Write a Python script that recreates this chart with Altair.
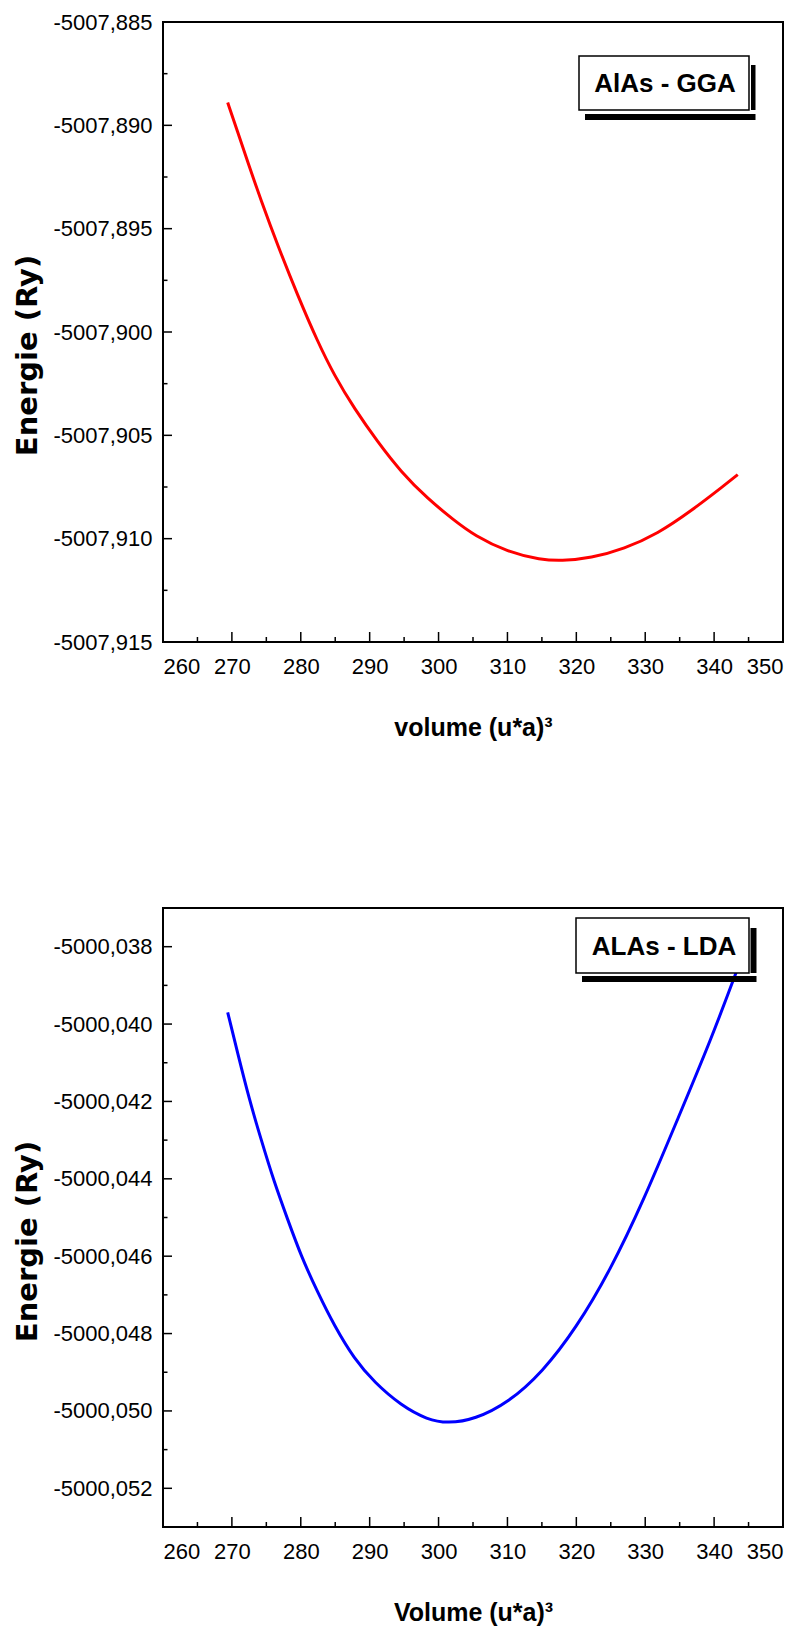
import altair as alt
import pandas as pd

# ---- data ----
V_GGA = [269.39, 270.84, 272.29, 274.23, 276.65, 279.55, 282.46, 284.87, 287.77, 291.17,
         294.55, 298.42, 302.29, 305.19, 310.04, 314.87, 317.77, 322.13, 326.96, 331.81,
         336.65, 341.48, 343.43]
E_GGA = [-5007.88890, -5007.89032, -5007.89177, -5007.89363, -5007.89581, -5007.89823,
         -5007.90048, -5007.90210, -5007.90371, -5007.90532, -5007.90677, -5007.90807,
         -5007.90912, -5007.90984, -5007.91065, -5007.91102, -5007.91108, -5007.91094,
         -5007.91049, -5007.90976, -5007.90866, -5007.90742, -5007.90690]

V_LDA = [269.39, 270.84, 272.53, 274.23, 276.16, 278.10, 280.03, 282.46, 284.87, 287.77,
         290.67, 294.55, 298.42, 301.34, 305.26, 310.17, 315.07, 319.98, 324.89, 329.79,
         334.70, 339.62, 343.40]
E_LDA = [-5000.03970, -5000.04075, -5000.04195, -5000.04298, -5000.04410, -5000.04505,
         -5000.04599, -5000.04694, -5000.04780, -5000.04866, -5000.04926, -5000.04986,
         -5000.05023, -5000.05032, -5000.05022, -5000.04978, -5000.04900, -5000.04786,
         -5000.04638, -5000.04455, -5000.04246, -5000.04037, -5000.03857]

X_DOMAIN = [260, 350]
X_MAJOR = [260, 270, 280, 290, 300, 310, 320, 330, 340, 350]
X_MINOR = [265, 275, 285, 295, 305, 315, 325, 335, 345]

Y_DOMAIN_GGA = [-5007.915, -5007.885]
Y_MAJOR_GGA = [-5007.915, -5007.910, -5007.905, -5007.900, -5007.895, -5007.890, -5007.885]
Y_MINOR_GGA = [-5007.9125, -5007.9075, -5007.9025, -5007.8975, -5007.8925, -5007.8875]

Y_DOMAIN_LDA = [-5000.053, -5000.037]
Y_MAJOR_LDA = [-5000.052, -5000.050, -5000.048, -5000.046, -5000.044, -5000.042,
               -5000.040, -5000.038]
Y_MINOR_LDA = [-5000.053, -5000.051, -5000.049, -5000.047, -5000.045, -5000.043,
               -5000.041, -5000.039, -5000.037]

Y_TITLE = "Energie (Ry)"
X_TITLE_GGA = "volume (u*a)³"
X_TITLE_LDA = "Volume (u*a)³"
LABEL_GGA = "AlAs - GGA"
LABEL_LDA = "ALAs - LDA"

W = 620
FONT = "Liberation Sans, Arial"
LABEL_EXPR = "replace(replace(format(datum.value, '.3f'), '.', ','), '\u2212', '-')"


def panel(V, E, color, ydom, ymaj, ymin, xtitle, label, box, h):
    xs = alt.Scale(domain=X_DOMAIN, nice=False, zero=False)
    ys = alt.Scale(domain=ydom, nice=False, zero=False)
    df = pd.DataFrame({"v": V, "e": E})

    xaxis = alt.Axis(values=X_MAJOR, title=xtitle, labelPadding=14, format="d",
                     titleFont=FONT, titleFontWeight="bold", titleFontSize=25,
                     titleY=85, titleBaseline="middle")
    yaxis = alt.Axis(values=ymaj, title=Y_TITLE, labelExpr=LABEL_EXPR, labelPadding=11,
                     titleFont="DejaVu Sans", titleFontWeight="bold", titleFontSize=29,
                     titleX=-136, titleY=333, titleAngle=270, titleAlign="center",
                     titleBaseline="middle")

    line = alt.Chart(df).mark_line(color=color, strokeWidth=3, interpolate="basis").encode(
        x=alt.X("v:Q", scale=xs, axis=xaxis),
        y=alt.Y("e:Q", scale=ys, axis=yaxis),
    )

    def xticks(vals, length):
        return alt.Chart(pd.DataFrame({"v": vals})).mark_rule(color="black", strokeWidth=1.5).encode(
            x=alt.X("v:Q", scale=xs, axis=xaxis), y=alt.value(h), y2=alt.value(h - length))

    def yticks(vals, length):
        return alt.Chart(pd.DataFrame({"e": vals})).mark_rule(color="black", strokeWidth=1.5).encode(
            y=alt.Y("e:Q", scale=ys, axis=yaxis), x=alt.value(0), x2=alt.value(length))

    lab = pd.DataFrame({"t": [label]})
    bx0, bx1, by0, by1, vx0, vx1, vy0, hx0, hy0, hy1, tx, ty = box
    shadow_v = alt.Chart(lab).mark_rect(color="black").encode(
        x=alt.value(vx0), x2=alt.value(vx1), y=alt.value(vy0), y2=alt.value(by1))
    shadow_h = alt.Chart(lab).mark_rect(color="black").encode(
        x=alt.value(hx0), x2=alt.value(vx1), y=alt.value(hy0), y2=alt.value(hy1))
    rect = alt.Chart(lab).mark_rect(fill="white", stroke="black", strokeWidth=1.5).encode(
        x=alt.value(bx0), x2=alt.value(bx1), y=alt.value(by0), y2=alt.value(by1))
    text = alt.Chart(lab).mark_text(font=FONT, fontWeight="bold", fontSize=26,
                                     align="center", baseline="middle", color="black").encode(
        x=alt.value(tx), y=alt.value(ty), text="t:N")

    return alt.layer(line, xticks(X_MAJOR, 10), xticks(X_MINOR, 5),
                     yticks(ymaj, 9), yticks(ymin, 4.5),
                     shadow_v, shadow_h, rect, text).properties(width=W, height=h)


top = panel(V_GGA, E_GGA, "#ff0000", Y_DOMAIN_GGA, Y_MAJOR_GGA, Y_MINOR_GGA, X_TITLE_GGA,
            LABEL_GGA, (416, 586, 34, 88, 588, 592.5, 43, 422, 92, 98, 502, 62), 620)
bottom = panel(V_LDA, E_LDA, "#0000ff", Y_DOMAIN_LDA, Y_MAJOR_LDA, Y_MINOR_LDA, X_TITLE_LDA,
               LABEL_LDA, (413, 586, 10, 65, 587.5, 593.5, 20, 419, 68, 74, 501, 39), 619)

chart = alt.vconcat(top, bottom, spacing=165).properties(
    padding={"left": 4, "top": 2, "right": 5, "bottom": 5}
).configure_view(stroke="black", strokeWidth=2).configure_axis(
    ticks=False, domain=False, grid=False, labelFont=FONT, labelFontSize=22,
    labelColor="black", titleColor="black"
)

chart.save("out.html", embed_options={"renderer": "svg", "actions": False})
